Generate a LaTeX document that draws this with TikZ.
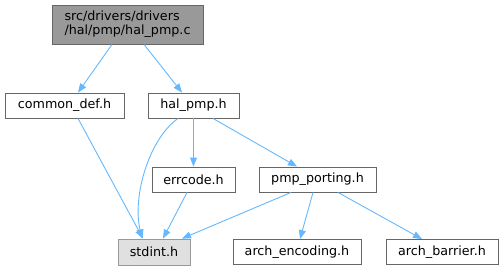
\documentclass[tikz,border=0pt]{standalone}
\usepackage{fontspec}
\setmainfont{DejaVu Sans}
\usetikzlibrary{calc,arrows.meta}
\definecolor{lienbleu}{HTML}{63B8FF}
\definecolor{bordgris}{HTML}{666666}
\definecolor{fondcourant}{HTML}{999999}
\definecolor{fondsysteme}{HTML}{E0E0E0}

\begin{document}
\begin{tikzpicture}[x=1pt,y=-1pt]
        \tikzstyle {fichier} = [rectangle, draw=bordgris, fill=white, line width=0.9pt, minimum height=25pt, inner sep=0pt, text centered, font=\fontsize{12.7}{14}\selectfont]
        \tikzstyle {fichier_courant} = [fichier, fill=fondcourant, draw=bordgris, minimum height=39pt, align=left]
        \tikzstyle {systeme} = [fichier, fill=fondsysteme, draw=fondcourant, minimum height=26pt]
        \tikzstyle {lien} = [draw=lienbleu, line width=0.9pt, -{Triangle[length=9pt,width=7pt]}]
        \useasboundingbox (0,0) rectangle (503,271);
        % Fichier source
        \node (hal_pmp_c) [fichier_courant, minimum width=151pt] at (127.5,24.5) {src/drivers/drivers\\/hal/pmp/hal\_pmp.c};
        % En-têtes
        \node (common_def) [fichier, minimum width=119pt] at (64.5,105.5) {common\_def.h};
        \node (hal_pmp) [fichier, minimum width=91pt] at (193.5,105.5) {hal\_pmp.h};
        \node (errcode) [fichier, minimum width=83pt] at (193.5,179.5) {errcode.h};
        \node (pmp_porting) [fichier, minimum width=117pt] at (317.5,179.5) {pmp\_porting.h};
        \node (stdint) [systeme, minimum width=72pt] at (154,252) {stdint.h};
        \node (arch_encoding) [fichier, minimum width=128pt] at (297,252) {arch\_encoding.h};
        \node (arch_barrier) [fichier, minimum width=112pt] at (442,252) {arch\_barrier.h};
        % Inclusions
        \draw [lien] ($(hal_pmp_c.south)+(-15.5,0)$) -- ($(common_def.north)+(13.5,0)$);
        \draw [lien] ($(hal_pmp_c.south)+(16.5,0)$) -- ($(hal_pmp.north)+(-11.5,0)$);
        \draw [lien] ($(common_def.south)+(13.5,0)$) -- ($(stdint.north)+(-11,0)$);
        \draw [lien] ($(hal_pmp.south)+(-15.5,0)$) .. controls (150,138) and (132,195) .. ($(stdint.north)+(-12,0)$);
        \draw [lien] (hal_pmp.south) -- (errcode.north);
        \draw [lien] ($(hal_pmp.south)+(19.5,0)$) -- ($(pmp_porting.north)+(-20.5,0)$);
        \draw [lien] ($(errcode.south)+(-6.5,0)$) -- ($(stdint.north)+(9,0)$);
        \draw [lien] ($(pmp_porting.south)+(-26.5,0)$) -- ($(stdint.north)+(28,0)$);
        \draw [lien] ($(pmp_porting.south)+(-4.5,0)$) -- ($(arch_encoding.north)+(3,0)$);
        \draw [lien] ($(pmp_porting.south)+(20.5,0)$) -- ($(arch_barrier.north)+(-20,0)$);
    \end{tikzpicture}
\end{document}
